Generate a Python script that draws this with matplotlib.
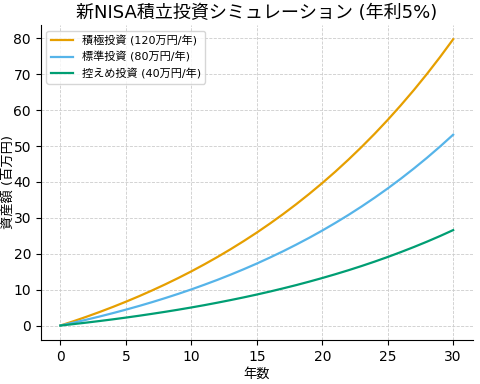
import matplotlib.pyplot as plt
import matplotlib

matplotlib.rcParams['font.family'] = ['DejaVu Sans', 'Noto Sans CJK JP']

years = list(range(0, 31))

# 資産額 (百万円) — 図から読み取った値
plan_high = [0, 1.20, 2.46, 3.78, 5.17, 6.63, 8.16, 9.77, 11.46, 13.23, 15.09,
             17.05, 19.10, 21.26, 23.52, 25.89, 28.39, 31.01, 33.76, 36.65, 39.68,
             42.86, 46.21, 49.72, 53.40, 57.27, 61.34, 65.60, 70.08, 74.79, 79.73]
plan_mid = [0, 0.80, 1.64, 2.52, 3.45, 4.42, 5.44, 6.51, 7.64, 8.82, 10.06,
            11.37, 12.73, 14.17, 15.68, 17.26, 18.93, 20.67, 22.51, 24.43, 26.45,
            28.58, 30.80, 33.14, 35.60, 38.18, 40.89, 43.74, 46.72, 49.86, 53.15]
plan_low = [0, 0.40, 0.82, 1.26, 1.72, 2.21, 2.72, 3.26, 3.82, 4.41, 5.03,
            5.68, 6.37, 7.09, 7.84, 8.63, 9.46, 10.34, 11.25, 12.22, 13.23,
            14.29, 15.40, 16.57, 17.80, 19.09, 20.45, 21.87, 23.36, 24.93, 26.58]

labels = ['積極投資 (120万円/年)', '標準投資 (80万円/年)', '控えめ投資 (40万円/年)']

fig, ax = plt.subplots(figsize=(4.8, 3.84), dpi=100)

ax.plot(years, plan_high, color='#E69F00', linewidth=1.6, label=labels[0])
ax.plot(years, plan_mid, color='#56B4E9', linewidth=1.6, label=labels[1])
ax.plot(years, plan_low, color='#009E73', linewidth=1.6, label=labels[2])

ax.set_title('新NISA積立投資シミュレーション (年利5%)', fontsize=13, pad=5)
ax.set_xlabel('年数', fontsize=9.5, va='center')
ax.set_ylabel('資産額 (百万円)', fontsize=9.5, va='center')
ax.xaxis.set_label_coords(0.5, -0.11)
ax.yaxis.set_label_coords(-0.076, 0.5)
ax.tick_params(labelsize=10)
ax.grid(True, linestyle='--', linewidth=0.6, color='#cccccc')
ax.spines['top'].set_visible(False)
ax.spines['right'].set_visible(False)
ax.legend(loc='upper left', fontsize=8)

plt.subplots_adjust(left=0.085, right=0.985, top=0.935, bottom=0.115)
plt.savefig('out.png')
